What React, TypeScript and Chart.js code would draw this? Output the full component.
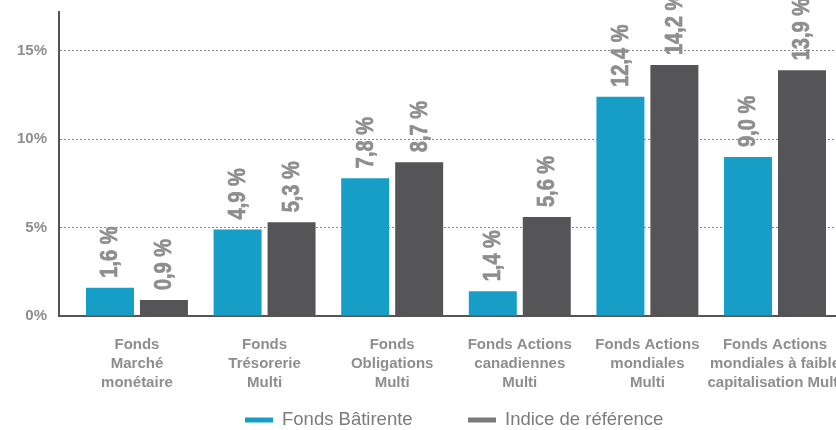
import React, { useEffect, useRef } from "react";
import { Chart, registerables } from "chart.js";

Chart.register(...registerables);

const categories: string[][] = [
  ["Fonds", "Marché", "monétaire"],
  ["Fonds", "Trésorerie", "Multi"],
  ["Fonds", "Obligations", "Multi"],
  ["Fonds Actions", "canadiennes", "Multi"],
  ["Fonds Actions", "mondiales", "Multi"],
  ["Fonds Actions", "mondiales à faible", "capitalisation Multi"],
];
const fondsBatirente = [1.6, 4.9, 7.8, 1.4, 12.4, 9.0];
const indiceReference = [0.9, 5.3, 8.7, 5.6, 14.2, 13.9];
const seriesNames = ["Fonds Bâtirente", "Indice de référence"];
const yTicks = [0, 5, 10, 15];

const BLUE = "#169ec6";
const DARK = "#555557";
const TEXT = "#8e8e90";
const REG = '"Liberation Sans", Arial, sans-serif';

const fmt = (v: number) => v.toFixed(1).replace(".", ",") + " %";

const valueLabels = {
  id: "valueLabels",
  afterDatasetsDraw(chart: any) {
    const ctx = chart.ctx;
    ctx.save();
    ctx.font = `bold 23px ${REG}`;
    ctx.fillStyle = TEXT;
    ctx.strokeStyle = TEXT;
    ctx.lineWidth = 0.7;
    ctx.textAlign = "left";
    ctx.textBaseline = "middle";
    chart.data.datasets.forEach((ds: any, di: number) => {
      const meta = chart.getDatasetMeta(di);
      meta.data.forEach((bar: any, i: number) => {
        ctx.save();
        ctx.translate(bar.x + 1, bar.y - 10);
        ctx.rotate(-Math.PI / 2);
        ctx.scale(0.87, 1);
        const t = fmt(ds.data[i].y);
        ctx.fillText(t, 0, 0);
        ctx.strokeText(t, 0, 0);
        ctx.restore();
      });
    });
    ctx.restore();
  },
};

const customLegend = {
  id: "customLegend",
  afterDraw(chart: any) {
    const ctx = chart.ctx;
    ctx.save();
    ctx.font = `18.5px ${REG}`;
    ctx.textBaseline = "middle";
    ctx.textAlign = "left";
    const colors = [BLUE, "#79797b"];
    const xs = [245, 468];
    const y = 420;
    seriesNames.forEach((name, i) => {
      ctx.fillStyle = colors[i];
      ctx.fillRect(xs[i], y - 2.5, 28, 5);
      ctx.fillStyle = "#7c7c7e";
      ctx.fillText(name, xs[i] + 37, y);
    });
    ctx.restore();
  },
};

export default function App() {
  const ref = useRef<HTMLCanvasElement | null>(null);
  useEffect(() => {
    if (!ref.current) return;
    const chart = new Chart(ref.current, {
      type: "bar",
      data: {
        datasets: [
          {
            label: seriesNames[0],
            data: fondsBatirente.map((v, i) => ({ x: i, y: v })),
            backgroundColor: BLUE,
            categoryPercentage: 0.846,
            barPercentage: 0.889,
          },
          {
            label: seriesNames[1],
            data: indiceReference.map((v, i) => ({ x: i, y: v })),
            backgroundColor: DARK,
            categoryPercentage: 0.846,
            barPercentage: 0.889,
          },
        ] as any,
      },
      options: {
        animation: false,
        responsive: false,
        maintainAspectRatio: false,
        layout: { padding: { top: 12, bottom: 30, left: 0, right: 0 } },
        plugins: {
          legend: { display: false },
          tooltip: { enabled: false },
        },
        scales: {
          x: {
            type: "linear",
            min: -0.611,
            max: 5.478,
            offset: false,
            grid: { display: false, drawTicks: false },
            border: { display: true, color: DARK, width: 2 },
            ticks: {
              stepSize: 1,
              includeBounds: false,
              autoSkip: false,
              maxRotation: 0,
              minRotation: 0,
              padding: 19,
              color: TEXT,
              font: { family: REG, size: 15, weight: "bold", lineHeight: 1.27 },
              callback: (v: any) => (Number.isInteger(v) && categories[v] ? categories[v] : ""),
            },
            afterFit(scale: any) {
              scale.height = 84;
              scale.paddingLeft = 0;
              scale.paddingRight = 0;
            },
          } as any,
          y: {
            min: 0,
            max: 17.2,
            grid: {
              drawTicks: false,
              color: (c: any) => (c.tick && c.tick.value === 0 ? "rgba(0,0,0,0)" : "#8a8a8a"),
              lineWidth: 1,
            },
            border: { display: true, color: DARK, width: 2, dash: [2, 2] as any },
            ticks: {
              stepSize: 5,
              includeBounds: false,
              padding: 12,
              color: TEXT,
              font: { family: REG, size: 15, weight: "bold" },
              callback: (v: any) => (yTicks.includes(v) ? `${v}%` : ""),
            },
            afterFit(scale: any) {
              scale.width = 59;
              scale.paddingTop = 0;
              scale.paddingBottom = 0;
            },
          } as any,
        },
      },
      plugins: [valueLabels, customLegend],
    });
    return () => chart.destroy();
  }, []);
  return (
    <div style={{ position: "absolute", left: 0, top: 0, width: 836, height: 430, overflow: "hidden", background: "#fff" }}>
      <canvas ref={ref} width={836} height={430} style={{ display: "block" }} />
    </div>
  );
}
